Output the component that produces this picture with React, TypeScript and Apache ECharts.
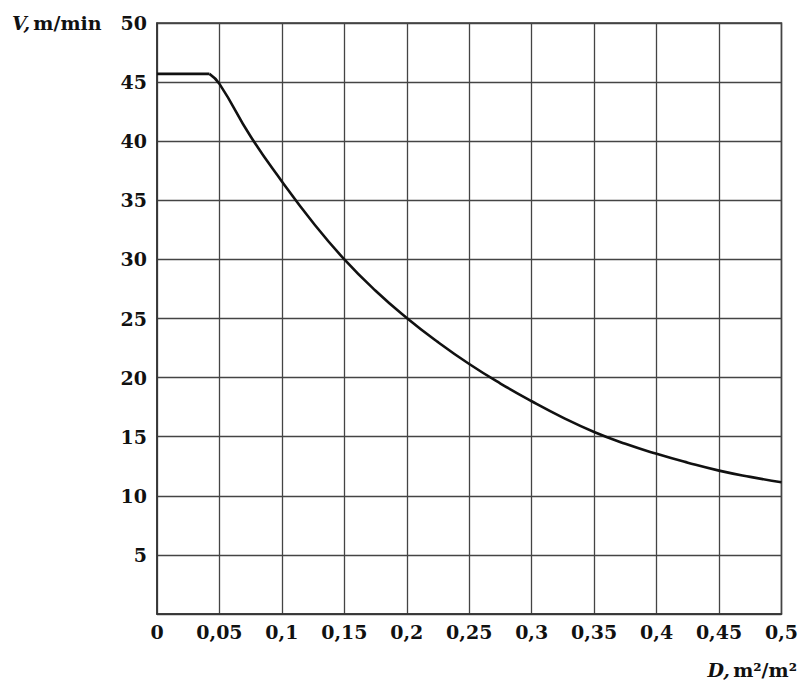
import React, { useEffect, useRef } from "react";
import * as echarts from "echarts";

// Tick values
const xTicks = [0, 0.05, 0.1, 0.15, 0.2, 0.25, 0.3, 0.35, 0.4, 0.45, 0.5];
const yTicks = [0, 5, 10, 15, 20, 25, 30, 35, 40, 45, 50];

// Flat segment (D, V)
const flatD = [0, 0.042];
const flatV = [45.7, 45.7];

// Decreasing curve (D, V)
const curveD = [0.042, 0.05, 0.075, 0.1, 0.125, 0.15, 0.175, 0.2, 0.225, 0.25, 0.275, 0.3, 0.325, 0.35, 0.375, 0.4, 0.425, 0.45, 0.475, 0.5];
const curveV = [45.7, 44.85, 40.4, 36.6, 33.1, 30.0, 27.35, 25.05, 23.0, 21.15, 19.5, 18.0, 16.62, 15.4, 14.4, 13.55, 12.8, 12.13, 11.6, 11.15];

const FONT = "'DejaVu Serif', 'Liberation Serif', serif";

export default function App() {
  const ref = useRef<HTMLDivElement>(null);
  useEffect(() => {
    if (!ref.current) return;
    const chart = echarts.init(ref.current, null, { renderer: "svg" });
    const fmt = (v: number) => String(+v.toFixed(2)).replace(".", ",");
    chart.setOption({
      animation: false,
      backgroundColor: "#ffffff",
      grid: {
        left: 157,
        right: 18,
        top: 23,
        bottom: 75,
        show: true,
        borderColor: "#333",
        borderWidth: 1.5,
      },
      xAxis: {
        type: "value",
        min: xTicks[0],
        max: xTicks[xTicks.length - 1],
        interval: 0.05,
        axisLine: { show: true, lineStyle: { color: "#333", width: 1.5 } },
        axisTick: { show: false },
        splitLine: { show: true, lineStyle: { color: "#444", width: 1.3 } },
        axisLabel: {
          formatter: (v: number) => fmt(v),
          fontFamily: FONT,
          fontWeight: "bold",
          fontSize: 19,
          color: "#111",
          margin: 8,
        },
      },
      yAxis: {
        type: "value",
        min: yTicks[0],
        max: yTicks[yTicks.length - 1],
        interval: 5,
        axisLine: { show: true, lineStyle: { color: "#333", width: 1.5 } },
        axisTick: { show: false },
        splitLine: { show: true, lineStyle: { color: "#444", width: 1.3 } },
        axisLabel: {
          formatter: (v: number) => (v === 0 ? "" : String(v)),
          fontFamily: FONT,
          fontWeight: "bold",
          fontSize: 19,
          color: "#111",
          margin: 10,
        },
      },
      series: [
        {
          type: "line",
          data: flatD.map((d, i) => [d, flatV[i]]),
          showSymbol: false,
          lineStyle: { color: "#111", width: 2.6 },
        },
        {
          type: "line",
          data: curveD.map((d, i) => [d, curveV[i]]),
          showSymbol: false,
          smooth: 0.5,
          lineStyle: { color: "#111", width: 2.6 },
        },
      ],
      graphic: [
        {
          type: "text",
          left: 12,
          top: 13,
          style: {
            text: "{i|V,} {b|m/min}",
            rich: {
              i: { fontFamily: FONT, fontStyle: "italic", fontWeight: "bold", fontSize: 19, fill: "#111" },
              b: { fontFamily: FONT, fontWeight: "bold", fontSize: 19, fill: "#111" },
            },
          },
        },
        {
          type: "text",
          right: 4,
          top: 660,
          style: {
            text: "{i|D,} {b|m²/m²}",
            rich: {
              i: { fontFamily: FONT, fontStyle: "italic", fontWeight: "bold", fontSize: 19, fill: "#111" },
              b: { fontFamily: FONT, fontWeight: "bold", fontSize: 19, fill: "#111" },
            },
          },
        },
      ],
    });
    return () => chart.dispose();
  }, []);
  return (
    <div
      ref={ref}
      style={{ position: "fixed", left: 0, top: 0, width: 801, height: 689 }}
    />
  );
}
